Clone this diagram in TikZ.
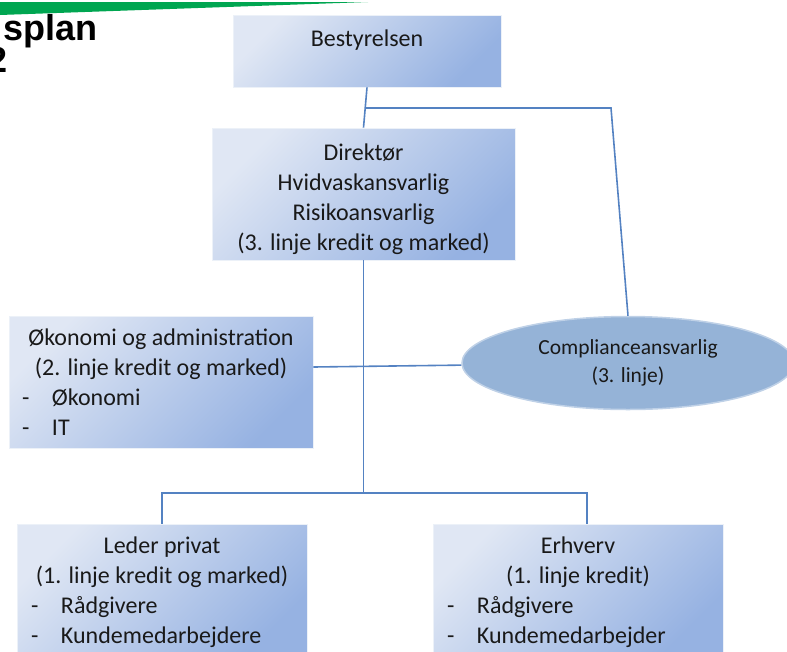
\documentclass[tikz,border=0pt]{standalone}
\usepackage{fontspec}
\setmainfont{Carlito}
\newfontfamily\titlefont{Liberation Sans}
\usetikzlibrary{shapes.geometric}
\definecolor{boxlight}{RGB}{224,231,244}
\definecolor{boxdark}{RGB}{150,178,226}
\definecolor{compfill}{RGB}{149,179,215}
\definecolor{lineblue}{RGB}{84,130,194}
\definecolor{bargreen}{RGB}{0,166,81}
\newcommand{\dashitem}[2]{\makebox[#1][l]{\makebox[30pt][l]{-}#2}}
\newcommand{\topstrut}[1]{\rule{0pt}{#1}}
\begin{document}
\begin{tikzpicture}[x=1pt,y=-1pt,
  box/.style={rectangle,draw=boxlight!60!white,line width=0.8pt,left color=boxlight,right color=boxdark,shading angle=45,inner sep=0pt,align=center,font=\fontsize{24}{30}\selectfont},
  conn/.style={draw=lineblue,line width=1.6pt},
  every node/.style={text=black!90}]
  \useasboundingbox (0,0) rectangle (787,651);
  \clip (0,0) rectangle (787,651);
  % title strip
  \fill[bargreen] (0,2) -- (368,2) -- (0,15) -- cycle;
  \node[anchor=base east,text=black,font=\titlefont\bfseries\fontsize{36}{42}\selectfont] (title) at (101,40) {splan};
  \node[anchor=base east,text=black,font=\titlefont\bfseries\fontsize{36}{42}\selectfont] (titletwo) at (11,72) {2};

  \node[box,minimum width=268pt,minimum height=72pt] (best) at (367,51) {};
  \node[font=\fontsize{24}{30}\selectfont] (bestlabel) at (367,40) {Bestyrelsen};
  \node[box,minimum width=303pt,minimum height=132pt] (dir) at (363.5,194)
    {\topstrut{28pt}Direktør\\Hvidvaskansvarlig\\Risikoansvarlig\\(3. linje kredit og marked)};
  \node[box,minimum width=304pt,minimum height=132pt] (okon) at (161,382)
    {Økonomi og administration\\(2. linje kredit og marked)\\
     \dashitem{278pt}{Økonomi}\\\dashitem{278pt}{IT}};
  \node[ellipse,draw=compfill!60!white,line width=1.5pt,fill=compfill,minimum width=332pt,minimum height=93pt,inner sep=0pt,align=center,font=\fontsize{21.5}{28}\selectfont] (comp) at (628,363)
    {Complianceansvarlig\\(3. linje)};
  \node[box,minimum width=290pt,minimum height=132pt] (leder) at (162,590)
    {\topstrut{22pt}Leder privat\\(1. linje kredit og marked)\\
     \dashitem{262pt}{Rådgivere}\\\dashitem{262pt}{Kundemedarbejdere}};
  \node[box,minimum width=290pt,minimum height=132pt] (erhv) at (578,590)
    {\topstrut{22pt}Erhverv\\(1. linje kredit)\\
     \dashitem{262pt}{Rådgivere}\\\dashitem{262pt}{Kundemedarbejder}};

  \coordinate (split) at (366,108);
  \coordinate (corner) at (611,108);
  \coordinate (bus) at (363.5,493);
  \draw[conn] (best.south) -- (dir.north);
  \draw[conn] (split) -- (corner) -- (comp.north);
  \draw[conn] (dir.south) -- (bus);
  \draw[conn] ([yshift=15pt]okon.east) -- (comp);
  \draw[conn] (leder.north) |- (bus) -| ([xshift=9pt]erhv.north);
\end{tikzpicture}
\end{document}
